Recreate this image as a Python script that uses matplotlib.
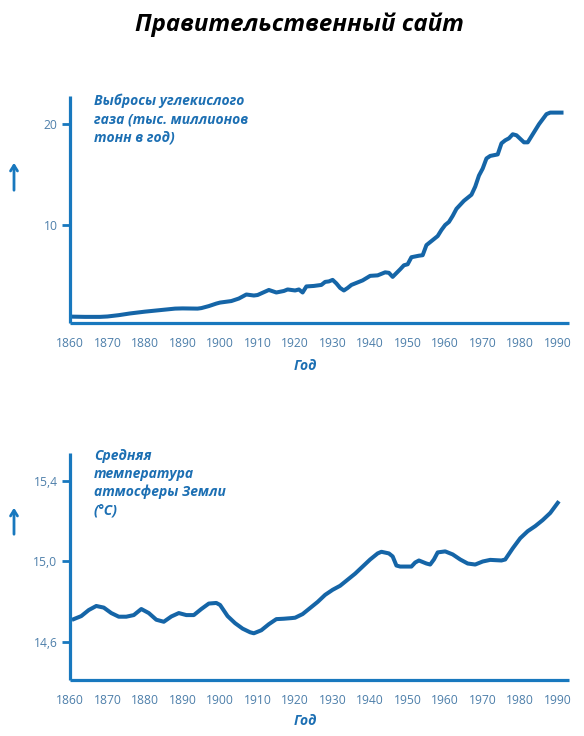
import matplotlib
matplotlib.use("Agg")
from matplotlib import pyplot as plt

# data
co2_years = [1861, 1864, 1868, 1870, 1873, 1876, 1880, 1884, 1888, 1890, 1894, 1895,
             1897, 1899, 1900, 1903, 1905, 1907, 1909, 1910, 1913, 1915, 1917, 1918,
             1920, 1921, 1922, 1923, 1925, 1927, 1928, 1929, 1930, 1931, 1932, 1933,
             1934, 1935, 1937, 1938, 1940, 1942, 1944, 1945, 1946, 1948, 1949, 1950,
             1951, 1953, 1954, 1955, 1957, 1958, 1959, 1960, 1961, 1962, 1963, 1965,
             1966, 1967, 1968, 1969, 1970, 1971, 1972, 1974, 1975, 1976, 1977, 1978,
             1979, 1981, 1982, 1983, 1985, 1987, 1988, 1991]
co2_values = [0.9, 0.88, 0.88, 0.92, 1.05, 1.22, 1.4, 1.55, 1.7, 1.72, 1.7, 1.75,
              1.95, 2.2, 2.3, 2.45, 2.7, 3.1, 3.0, 3.05, 3.55, 3.3, 3.45, 3.6,
              3.5, 3.6, 3.3, 3.9, 3.95, 4.05, 4.35, 4.4, 4.55, 4.2, 3.75, 3.5,
              3.75, 4.05, 4.35, 4.5, 4.95, 5.0, 5.3, 5.25, 4.85, 5.6, 6.0, 6.1,
              6.8, 6.95, 7.0, 8.0, 8.6, 8.9, 9.5, 10.0, 10.3, 10.9, 11.6, 12.4,
              12.7, 13.0, 13.8, 14.9, 15.6, 16.6, 16.85, 17.0, 18.1, 18.4, 18.6, 19.0,
              18.9, 18.2, 18.2, 18.8, 20.0, 21.0, 21.15, 21.15]

temp_years = [1861, 1863, 1865, 1867, 1869, 1871, 1873, 1875, 1877, 1879, 1881, 1883,
              1885, 1887, 1889, 1891, 1893, 1895, 1897, 1899, 1900, 1902, 1904, 1906,
              1908, 1909, 1911, 1913, 1915, 1917, 1919, 1920, 1922, 1924, 1926, 1928,
              1930, 1932, 1934, 1936, 1938, 1940, 1942, 1943, 1945, 1946, 1947, 1948,
              1951, 1952, 1953, 1955, 1956, 1957, 1958, 1960, 1962, 1964, 1966, 1968,
              1970, 1972, 1975, 1976, 1978, 1980, 1982, 1984, 1986, 1988, 1990]
temp_values = [14.715, 14.73, 14.76, 14.78, 14.772, 14.745, 14.727, 14.727, 14.735, 14.765,
               14.745, 14.712, 14.702, 14.728, 14.745, 14.735, 14.735, 14.765, 14.792, 14.795,
               14.785, 14.73, 14.695, 14.668, 14.65, 14.645, 14.66, 14.69, 14.715, 14.717,
               14.72, 14.722, 14.74, 14.77, 14.8, 14.835, 14.86, 14.88, 14.91, 14.94,
               14.975, 15.01, 15.04, 15.048, 15.04, 15.025, 14.98, 14.975, 14.975, 14.995,
               15.005, 14.99, 14.985, 15.01, 15.045, 15.05, 15.035, 15.01, 14.99, 14.985,
               15.0, 15.008, 15.005, 15.01, 15.065, 15.115, 15.15, 15.175, 15.205, 15.24,
               15.29]

x_ticks = [1860, 1870, 1880, 1890, 1900, 1910, 1920, 1930, 1940, 1950, 1960, 1970, 1980, 1990]
co2_ticks = [10, 20]
co2_ticklabels = ["10", "20"]
temp_ticks = [14.6, 15.0, 15.4]
temp_ticklabels = ["14,6", "15,0", "15,4"]

title = "Правительственный сайт"
co2_label = "Выбросы углекислого\nгаза (тыс. миллионов\nтонн в год)"
temp_label = "Средняя\nтемпература\nатмосферы Земли\n(°C)"
x_label = "Год"

line_col = "#1565a7"
spine_col = "#1878be"
text_col = "#1c6fb3"
tick_col = "#4d7faa"

plt.rcParams['font.family'] = ['Open Sans', 'DejaVu Sans']

fig = plt.figure(figsize=(5.84, 7.36), dpi=100)

ax1 = fig.add_axes([70/584, 0.5607, 499/584, 0.8696 - 0.5607])
ax2 = fig.add_axes([70/584, 0.0761, 499/584, 0.3849 - 0.0761])


def style(ax):
    for s in ['top', 'right']:
        ax.spines[s].set_visible(False)
    for s in ['left', 'bottom']:
        ax.spines[s].set_color(spine_col)
        ax.spines[s].set_linewidth(2.3)
        ax.spines[s].set_capstyle('butt')
    ax.set_xlim(1860.1, 1993)
    ax.set_xticks(x_ticks)
    ax.tick_params(axis='x', length=0, pad=10, labelsize=8.7, labelcolor=tick_col)
    ax.tick_params(axis='y', length=6, width=2, color=spine_col, pad=3,
                   labelsize=8.7, labelcolor=tick_col, direction='out')


ax1.plot(co2_years, co2_values, color=line_col, lw=2.9, solid_joinstyle='round')
style(ax1)
ax1.set_ylim(0.24, 22.8)
ax1.set_yticks(co2_ticks)
ax1.set_yticklabels(co2_ticklabels)

ax2.plot(temp_years, temp_values, color=line_col, lw=2.9, solid_joinstyle='round')
style(ax2)
ax2.set_ylim(14.414, 15.538)
ax2.set_yticks(temp_ticks)
ax2.set_yticklabels(temp_ticklabels)

# labels inside the plots
fig.text(94/584, 1 - 94/736, co2_label, ha='left', va='top', color=text_col,
         fontsize=10, fontweight='bold', fontstyle='italic', linespacing=1.35)
fig.text(94/584, 1 - 449/736, temp_label, ha='left', va='top', color=text_col,
         fontsize=10, fontweight='bold', fontstyle='italic', linespacing=1.35)

fig.text(305/584, 1 - 366/736, x_label, ha='center', va='center', color=text_col,
         fontsize=10, fontweight='bold', fontstyle='italic')
fig.text(305/584, 1 - 721/736, x_label, ha='center', va='center', color=text_col,
         fontsize=10, fontweight='bold', fontstyle='italic')

# arrows on the left
for y0, y1 in [(193, 160), (537, 505)]:
    fig.add_artist(matplotlib.patches.FancyArrowPatch(
        (14/584, 1 - y0/736), (14/584, 1 - y1/736), transform=fig.transFigure,
        arrowstyle='->,head_length=4,head_width=2.5', color=spine_col, lw=2,
        mutation_scale=1))

fig.text(299/584, 1 - 25/736, title, ha='center', va='center', color='black',
         fontsize=17.3, fontweight='bold', fontstyle='italic')

fig.savefig('out.png', dpi=100)
